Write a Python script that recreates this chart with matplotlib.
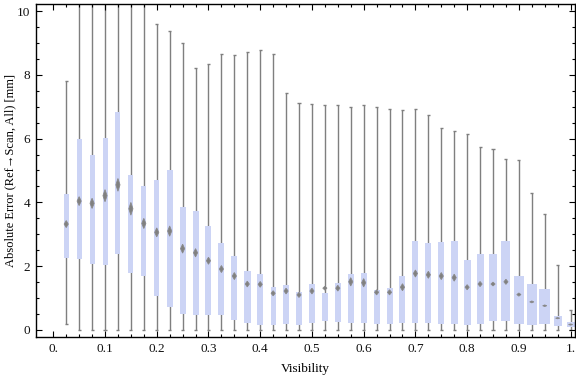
import matplotlib
matplotlib.use("Agg")
import matplotlib.pyplot as plt
from matplotlib.patches import Rectangle, Polygon
import numpy as np

# ---- data ----
visibility = [0.025 * k for k in range(1, 41)]
q1 = [2.27, 2.24, 2.08, 2.05, 2.39, 1.79, 1.70, 1.07, 0.72, 0.51,
      0.47, 0.47, 0.47, 0.31, 0.23, 0.17, 0.16, 0.19, 0.17, 0.23,
      0.29, 0.26, 0.23, 0.23, 0.20, 0.20, 0.23, 0.23, 0.23, 0.20,
      0.20, 0.17, 0.20, 0.29, 0.29, 0.20, 0.17, 0.20, 0.13, 0.09]
median = [3.32, 4.04, 3.97, 4.21, 4.55, 3.80, 3.34, 3.06, 3.10, 2.55,
          2.42, 2.17, 1.91, 1.69, 1.44, 1.43, 1.15, 1.22, 1.10, 1.22,
          1.31, 1.31, 1.51, 1.48, 1.18, 1.18, 1.34, 1.77, 1.73, 1.69,
          1.64, 1.34, 1.44, 1.44, 1.51, 1.11, 0.88, 0.76, 0.37, 0.17]
q3 = [4.25, 5.99, 5.49, 6.02, 6.83, 4.85, 4.51, 4.70, 5.02, 3.86,
      3.73, 3.26, 2.73, 2.32, 1.85, 1.76, 1.34, 1.41, 1.19, 1.44,
      1.16, 1.47, 1.76, 1.79, 1.25, 1.32, 1.69, 2.79, 2.72, 2.75,
      2.79, 2.19, 2.38, 2.38, 2.79, 1.69, 1.44, 1.28, 0.44, 0.26]
whisker_low = [0.18] + [0.0] * 39
whisker_high = [7.80, 11.5, 11.0, 12.0, 12.5, 11.0, 10.6, 9.60, 9.36, 8.99,
                8.20, 8.33, 8.64, 8.61, 8.70, 8.77, 8.64, 7.42, 7.11, 7.08,
                7.04, 7.04, 6.98, 7.04, 6.98, 6.92, 6.89, 6.92, 6.73, 6.32,
                6.23, 6.13, 5.73, 5.66, 5.35, 5.32, 4.28, 3.63, 2.03, 0.62]
# half-height of the median confidence marker (mm)
median_ci = [0.11, 0.14, 0.16, 0.19, 0.20, 0.20, 0.16, 0.14, 0.16, 0.14,
             0.13, 0.11, 0.11, 0.11, 0.09, 0.09, 0.08, 0.09, 0.08, 0.09,
             0.06, 0.09, 0.13, 0.13, 0.08, 0.08, 0.11, 0.11, 0.11, 0.11,
             0.11, 0.08, 0.08, 0.06, 0.08, 0.05, 0.03, 0.025, 0.02, 0.02]
# relative box widths (visibility units)
box_widths = [0.0091, 0.0097, 0.0097, 0.0097, 0.0097, 0.0097, 0.0097, 0.0097, 0.0120, 0.0116,
              0.0116, 0.0116, 0.0116, 0.0116, 0.0135, 0.0116, 0.0097, 0.0116, 0.0116, 0.0120,
              0.0116, 0.0116, 0.0116, 0.0116, 0.0116, 0.0116, 0.0116, 0.0116, 0.0116, 0.0116,
              0.0135, 0.0135, 0.0135, 0.0155, 0.0174, 0.0193, 0.0193, 0.0213, 0.0155, 0.0155]

x_ticks = [0.0, 0.1, 0.2, 0.3, 0.4, 0.5, 0.6, 0.7, 0.8, 0.9, 1.0]
x_ticklabels = ["0.", "0.1", "0.2", "0.3", "0.4", "0.5", "0.6", "0.7", "0.8", "0.9", "1."]
y_ticks = [0, 2, 4, 6, 8, 10]
y_ticklabels = ["0", "2", "4", "6", "8", "10"]

# ---- figure ----
plt.rcParams['font.family'] = ['Liberation Serif', 'DejaVu Serif']
fig = plt.figure(figsize=(5.76, 3.77), dpi=100)
ax = fig.add_axes([36 / 576, 1 - 337.3 / 377, (575 - 36) / 576, (337.3 - 4) / 377])

box_color = '#ccd4f5'
whisk_color = '#7f7f7f'
cap_half = 0.0030
dia_half_w = 0.0040

for i, x in enumerate(visibility):
    ax.vlines(x, whisker_low[i], whisker_high[i], color=whisk_color, lw=1.0, zorder=1)
    ax.hlines([whisker_low[i], whisker_high[i]], x - cap_half, x + cap_half,
              color=whisk_color, lw=1.0, zorder=1)
    w = box_widths[i]
    ax.add_patch(Rectangle((x - w / 2, q1[i]), w, q3[i] - q1[i],
                           facecolor=box_color, edgecolor='none', zorder=2))
    m = median[i]
    h = median_ci[i]
    ax.add_patch(Polygon([(x - dia_half_w, m), (x, m + h), (x + dia_half_w, m), (x, m - h)],
                         closed=True, facecolor='#808080', edgecolor='#8a8a8a',
                         lw=0.6, zorder=3))

ax.set_xlim(-0.0334, 1.0085)
ax.set_ylim(-0.23, 10.22)

ax.set_xticks(x_ticks)
ax.set_xticklabels(x_ticklabels)
ax.set_xticks(np.arange(0, 1.0001, 0.025), minor=True)
ax.set_yticks(y_ticks)
ax.set_yticklabels(y_ticklabels)
ax.set_yticks(np.arange(0, 10.001, 0.5), minor=True)

ax.tick_params(which='both', direction='in', top=True, right=True,
               labeltop=False, labelright=False, color='black', width=0.8,
               labelsize=9.5, labelcolor='#111111')
ax.tick_params(which='major', length=4.5, pad=4)
ax.tick_params(which='minor', length=2.5)

for s in ax.spines.values():
    s.set_linewidth(1.0)
    s.set_color('black')

ax.set_xlabel('Visibility', fontsize=9.5, va='center')
ax.xaxis.set_label_coords(0.5, -0.095)
ax.set_ylabel('Absolute Error (Ref→Scan, All) [mm]', fontsize=9, va='center')
ax.yaxis.set_label_coords(-0.048, 0.5)

fig.savefig('out.png', dpi=100)
